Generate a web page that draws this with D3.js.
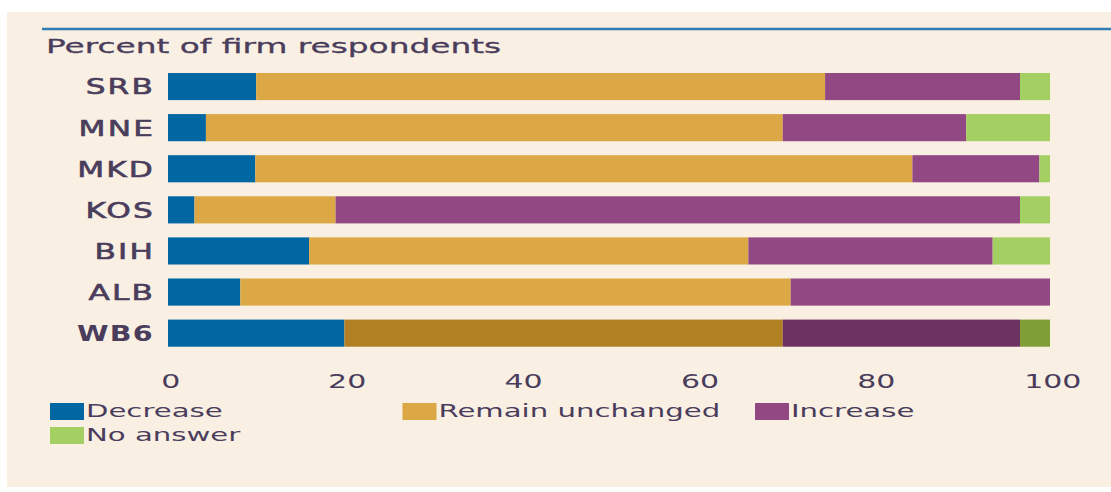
<!DOCTYPE html>
<html>
<head>
<meta charset="utf-8">
<script src="https://cdn.jsdelivr.net/npm/d3@7"></script>
<style>
  html, body { margin: 0; padding: 0; background: #ffffff; }
  svg { display: block; }
  text { font-family: "DejaVu Sans", sans-serif; fill: #4a3d5c; }
</style>
</head>
<body>
<svg id="chart" width="1111" height="492"></svg>
<script>
const categories = ["SRB", "MNE", "MKD", "KOS", "BIH", "ALB", "WB6"];
const seriesNames = ["Decrease", "Remain unchanged", "Increase", "No answer"];
const decrease = [10.0, 4.3, 9.9, 3.0, 16.0, 8.2, 20.0];
const remain   = [64.5, 65.4, 74.5, 16.0, 49.8, 62.4, 49.7];
const increase = [22.1, 20.8, 14.4, 77.6, 27.7, 29.4, 26.9];
const noAnswer = [3.4, 9.5, 1.2, 3.4, 6.5, 0.0, 3.4];
const xTicks = [0, 20, 40, 60, 80, 100];
const title = "Percent of firm respondents";

const colors = ["#0067a2", "#dba845", "#924983", "#a3cf63"];
const colorsDark = ["#0067a2", "#b08023", "#6b3262", "#809e36"];
const highlight = "WB6";

const rows = categories.map((c, i) => ({
  cat: c,
  "Decrease": decrease[i],
  "Remain unchanged": remain[i],
  "Increase": increase[i],
  "No answer": noAnswer[i]
}));

const svg = d3.select("#chart");

// background panel
svg.append("rect").attr("x", 7).attr("y", 12).attr("width", 1104).attr("height", 475)
  .attr("fill", "#f9efe3");

// top rule
svg.append("line").attr("x1", 42).attr("x2", 1111).attr("y1", 29).attr("y2", 29)
  .attr("stroke", "#2f7db3").attr("stroke-width", 2.5);

// title
svg.append("text")
  .attr("transform", "translate(46,53) scale(1.64,1)")
  .attr("font-size", 20)
  .attr("stroke", "#4a3d5c").attr("stroke-width", 0.3)
  .text(title);

const x = d3.scaleLinear().domain([0, 100]).range([168, 1050]);
const y = d3.scaleBand().domain(categories).range([66, 353.7]).paddingInner(0.34).paddingOuter(0.17);

const stacked = d3.stack().keys(seriesNames)(rows);

const layers = svg.append("g").selectAll("g").data(stacked).join("g");
layers.selectAll("rect")
  .data((s, si) => s.map(d => ({ d, si })))
  .join("rect")
  .attr("x", o => x(o.d[0]))
  .attr("width", o => Math.max(0, x(o.d[1]) - x(o.d[0])))
  .attr("y", o => y(o.d.data.cat))
  .attr("height", y.bandwidth())
  .attr("fill", o => o.d.data.cat === highlight ? colorsDark[o.si] : colors[o.si]);

// y axis
const yAxis = svg.append("g").attr("transform", "translate(168,0)")
  .call(d3.axisLeft(y).tickSize(0).tickPadding(0));
yAxis.select(".domain").remove();
yAxis.selectAll("text")
  .attr("x", 0).attr("dy", "0.36em")
  .attr("transform", d => d === highlight ? "translate(-14,0) scale(1.3,1)" : "translate(-13,0) scale(1.42,1)")
  .attr("font-size", 22)
  .attr("letter-spacing", d => d === highlight ? 1 : 1.5)
  .attr("font-family", "DejaVu Sans, sans-serif")
  .attr("fill", "#4a3d5c")
  .attr("stroke", "#4a3d5c")
  .attr("stroke-width", d => d === highlight ? 0 : 0.6)
  .attr("font-weight", d => d === highlight ? "bold" : "normal");

// x axis
const xAxis = svg.append("g").attr("transform", "translate(0,373)")
  .call(d3.axisBottom(x).tickValues(xTicks).tickFormat(d3.format("d")).tickSize(0).tickPadding(0));
xAxis.select(".domain").remove();
xAxis.selectAll("text")
  .attr("x", 1.5).attr("y", 15).attr("dy", "0")
  .attr("transform", "scale(1.5,1)")
  .attr("font-size", 20)
  .attr("font-family", "DejaVu Sans, sans-serif")
  .attr("fill", "#4a3d5c");

// legend
const legend = svg.append("g");
const items = legend.selectAll("g").data(seriesNames).join("g")
  .attr("transform", (d, i) => `translate(${50 + (i % 3) * 352.5},${403 + Math.floor(i / 3) * 24})`);
items.append("rect").attr("width", 34).attr("height", 17).attr("fill", (d, i) => colors[i]);
items.append("text")
  .attr("transform", "translate(36,13.5) scale(1.62,1)")
  .attr("font-size", 18)
  .text(d => d);
</script>
</body>
</html>
